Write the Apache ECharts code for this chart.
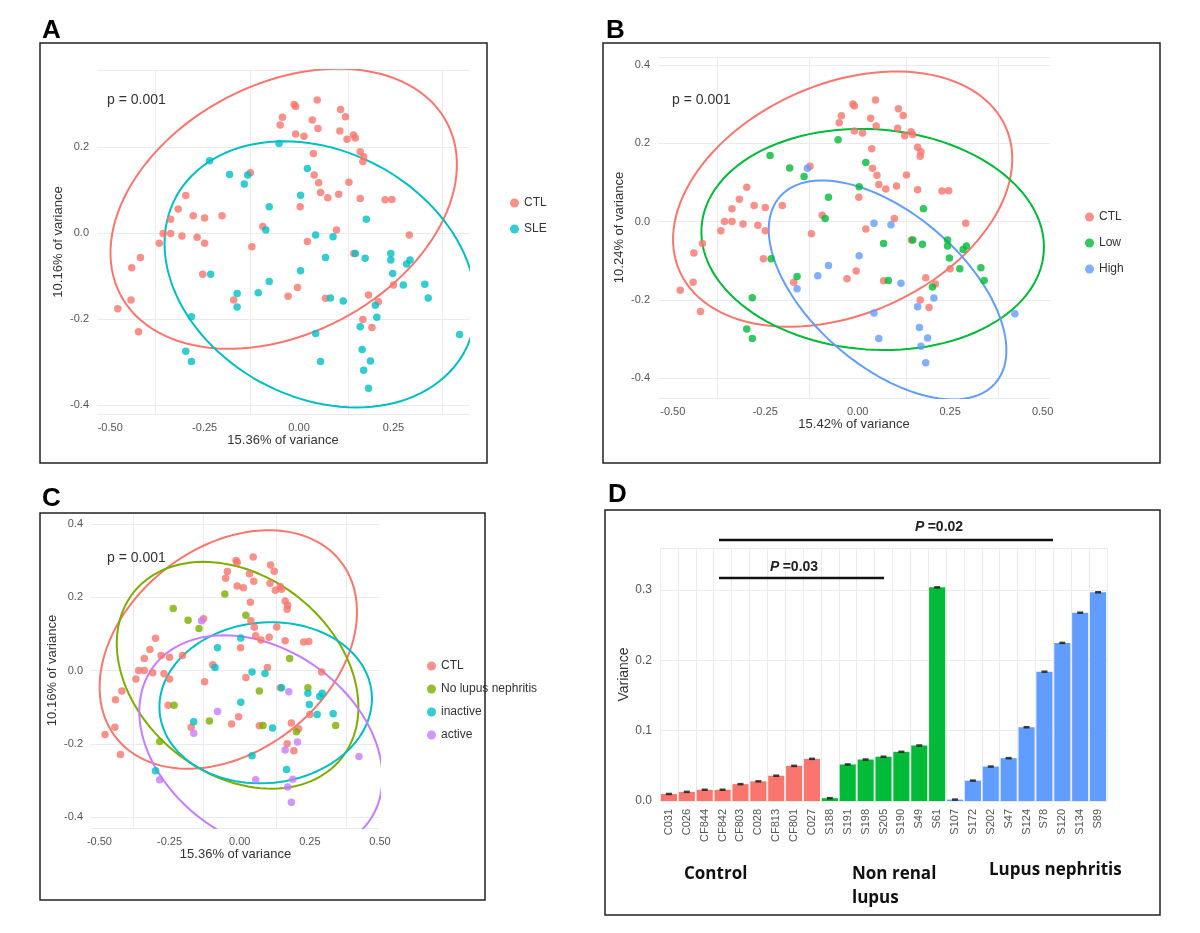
<!DOCTYPE html>
<html><head><meta charset="utf-8">
<script src="https://cdn.jsdelivr.net/npm/echarts@6/dist/echarts.min.js"></script>
<style>html,body{margin:0;padding:0;background:#fff}#c{width:1200px;height:933px}</style>
</head><body><div id="c"></div>
<script>
// ---------- DATA ----------
const ctlPoints = [[-0.48,-0.175],[-0.445,-0.155],[-0.425,-0.229],[-0.443,-0.08],[-0.42,-0.056],[-0.37,-0.023],[-0.36,0.0],[-0.34,0.0],[-0.34,0.033],[-0.32,0.057],[-0.30,0.088],[-0.31,-0.006],[-0.28,0.041],[-0.25,0.036],[-0.27,-0.009],[-0.25,-0.023],[-0.255,-0.095],[-0.204,0.041],[-0.129,0.141],[-0.125,-0.031],[-0.096,0.016],[-0.173,-0.155],[-0.05,0.252],[-0.044,0.27],[-0.013,0.30],[-0.009,0.295],[-0.009,0.231],[0.013,0.226],[0.035,0.264],[0.048,0.31],[0.05,0.244],[0.038,0.186],[0.04,0.136],[0.052,0.118],[0.057,0.095],[0.076,0.083],[0.105,0.091],[0.108,0.238],[0.11,0.288],[0.123,0.271],[0.127,0.219],[0.144,0.229],[0.149,0.222],[0.132,0.119],[0.162,0.19],[0.171,0.178],[0.169,0.167],[0.162,0.081],[0.228,0.078],[0.246,0.079],[0.292,-0.004],[0.25,-0.12],[0.184,-0.143],[0.21,-0.159],[0.169,-0.2],[0.193,-0.219],[0.145,-0.047],[0.099,0.008],[0.022,-0.019],[0.003,0.062],[-0.004,-0.126],[-0.029,-0.146],[0.07,-0.151]];
const noLupusPoints = [[-0.053,0.209],[-0.237,0.169],[-0.184,0.137],[-0.145,0.115],[0.022,0.151],[0.178,0.033],[0.07,-0.056],[0.243,-0.047],[0.342,-0.15],[0.202,-0.167],[0.083,-0.15],[-0.234,-0.095],[-0.285,-0.194],[-0.108,-0.138]];
const inactivePoints = [[-0.079,0.062],[-0.088,0.008],[0.004,0.089],[0.044,-0.004],[0.09,-0.008],[0.004,-0.087],[0.243,-0.062],[0.294,-0.062],[0.285,-0.071],[0.248,-0.093],[0.276,-0.12],[0.333,-0.118],[0.167,-0.27],[0.044,-0.233],[-0.164,-0.14],[-0.3,-0.274],[0.149,-0.047],[0.117,-0.157]];
const activePoints = [[-0.136,0.136],[-0.164,-0.171],[-0.079,-0.112],[0.175,-0.058],[0.162,-0.217],[0.206,-0.195],[0.171,-0.318],[0.184,-0.36],[0.189,-0.297],[0.425,-0.235],[0.057,-0.298],[-0.285,-0.298]];
const slePoints = noLupusPoints.concat(inactivePoints, activePoints);
const highPoints = [[-0.136,0.136],[-0.164,-0.171],[-0.108,-0.138],[-0.079,-0.112],[0.004,-0.087],[0.044,-0.004],[0.09,-0.008],[0.044,-0.233],[0.057,-0.298],[0.117,-0.157],[0.162,-0.217],[0.167,-0.27],[0.171,-0.318],[0.184,-0.36],[0.189,-0.297],[0.206,-0.195],[0.425,-0.235]];
const lowPoints = slePoints.filter(p => !highPoints.some(h => h[0]===p[0] && h[1]===p[1]));

const barCategories = ['C031','C026','CF844','CF842','CF803','C028','CF813','CF801','C027','S188','S191','S198','S205','S190','S49','S61','S107','S172','S202','S47','S124','S78','S120','S134','S89'];
const barValues = [0.010,0.013,0.016,0.016,0.024,0.028,0.036,0.050,0.060,0.004,0.052,0.059,0.063,0.070,0.079,0.304,0.002,0.029,0.049,0.061,0.105,0.184,0.225,0.268,0.297];
const barGroups = ['Control','Control','Control','Control','Control','Control','Control','Control','Control','NR','NR','NR','NR','NR','NR','NR','LN','LN','LN','LN','LN','LN','LN','LN','LN'];
const yTicksBar = [0.0,0.1,0.2,0.3];

// ---------- helpers ----------
const RED='#F8766D', TEAL='#00BFC4', GREEN='#00BA38', BLUE='#619CFF', OLIVE='#7CAE00', PURPLE='#C77CFF';
function ellipse(pts,r){const n=pts.length;let mx=0,my=0;pts.forEach(p=>{mx+=p[0];my+=p[1]});mx/=n;my/=n;
  let sxx=0,syy=0,sxy=0;pts.forEach(p=>{const dx=p[0]-mx,dy=p[1]-my;sxx+=dx*dx;syy+=dy*dy;sxy+=dx*dy});sxx/=n-1;syy/=n-1;sxy/=n-1;
  const tr=sxx+syy,det=sxx*syy-sxy*sxy,d=Math.sqrt(tr*tr/4-det);const l1=tr/2+d,l2=tr/2-d;
  const ang=Math.atan2(l1-sxx,sxy)||0;const ux=Math.cos(ang),uy=Math.sin(ang);
  const out=[];
  for(let i=0;i<=120;i++){const th=2*Math.PI*i/120;const a=r*Math.sqrt(l1)*Math.cos(th),b=r*Math.sqrt(l2)*Math.sin(th);
    out.push([mx+a*ux-b*uy,my+a*uy+b*ux]);}
  return out;}

const axisLbl={color:'#555',fontSize:11,fontFamily:'Liberation Sans'};
function ticksX(a0,a1){const a=[];for(let v=a0;v<=a1+1e-9;v+=0.25)a.push(+v.toFixed(2));return a;}
function ticksY(a0,a1){const a=[];for(let v=a0;v<=a1+1e-9;v+=0.2)a.push(+v.toFixed(1));return a;}
function xAx(gi,min,max,name,l0,l1){return {gridIndex:gi,type:'value',min,max,
  axisLabel:{...axisLbl,customValues:ticksX(l0,l1),formatter:v=>v.toFixed(2)},
  axisLine:{show:false},axisTick:{show:false,customValues:ticksX(l0-0.125,l1+0.125)},splitLine:{show:true,lineStyle:{color:'#ebebeb'}},
  name,nameLocation:'middle',nameGap:17,nameTextStyle:{color:'#333',fontSize:13,fontFamily:'Liberation Sans'}};}
function yAx(gi,min,max,name,l0,l1){return {gridIndex:gi,type:'value',min,max,
  axisLabel:{...axisLbl,customValues:ticksY(l0,l1),formatter:v=>v.toFixed(1)},axisLine:{show:false},axisTick:{show:false},
  splitLine:{show:true,lineStyle:{color:'#ebebeb'}},
  name,nameLocation:'middle',nameGap:32,nameTextStyle:{color:'#333',fontSize:13,fontFamily:'Liberation Sans'}};}
function sc(gi,name,data,color){return {type:'scatter',name,xAxisIndex:gi,yAxisIndex:gi,data,symbolSize:7.5,itemStyle:{color},z:3};}
const R=2.15;
function el(gi,data,color){return {type:'line',xAxisIndex:gi,yAxisIndex:gi,data:ellipse(data,R),showSymbol:false,lineStyle:{color,width:2},z:2,silent:true};}

const barColors = barGroups.map(g=>g==='Control'?RED:g==='NR'?GREEN:BLUE);
const legendText={color:'#333',fontSize:12,fontFamily:'Liberation Sans'};
const pTxt=(x,y)=>({type:'text',left:x,top:y,z:20,style:{text:'p = 0.001',fill:'#333',font:'14px Liberation Sans'}});
const letter=(t,x,y)=>({type:'text',left:x,top:y,style:{text:t,fill:'#000',font:'bold 26px Liberation Sans'}});
const box=(x,y,w,h)=>({type:'rect',shape:{x,y,width:w,height:h},style:{fill:'none',stroke:'#222',lineWidth:1.5},z:10});
const pRich={i:{font:'italic bold 14px Liberation Sans',fill:'#222'},b:{font:'bold 14px Liberation Sans',fill:'#222'}};

const option={
  animation:false,
  grid:[
    {left:97,top:70,width:372,height:344},
    {left:658,top:57,width:392,height:341},
    {left:91,top:513,width:289,height:315},
    {left:660,top:548,width:447,height:253}
  ],
  xAxis:[xAx(0,-0.535,0.45,'15.36% of variance',-0.5,0.25),xAx(1,-0.54,0.52,'15.42% of variance',-0.5,0.5),xAx(2,-0.53,0.5,'15.36% of variance',-0.5,0.5),
    {gridIndex:3,type:'category',data:barCategories,axisLine:{show:false},axisTick:{show:false},
    axisLabel:{color:'#555',fontSize:11,rotate:90,fontFamily:'Liberation Sans',margin:8},splitLine:{show:true,lineStyle:{color:'#ebebeb'}}}],
  yAxis:[yAx(0,-0.42,0.38,'10.16% of variance',-0.4,0.2),yAx(1,-0.45,0.42,'10.24% of variance',-0.4,0.4),yAx(2,-0.43,0.43,'10.16% of variance',-0.4,0.4),
    {gridIndex:3,type:'value',min:0,max:0.36,axisLine:{show:false},axisTick:{show:false},
    axisLabel:{color:'#555',fontSize:12,fontFamily:'Liberation Sans',formatter:v=>v.toFixed(1),customValues:yTicksBar},
    splitLine:{show:true,lineStyle:{color:'#ebebeb'}},name:'Variance',nameLocation:'middle',nameGap:28,
    nameTextStyle:{color:'#333',fontSize:14,fontFamily:'Liberation Sans'}}],
  legend:[
    {data:['CTL','SLE'],left:505,top:192,orient:'vertical',itemGap:14,icon:'circle',itemWidth:9,itemHeight:9,textStyle:legendText},
    {data:['CTL ','Low','High'],left:1080,top:206,orient:'vertical',itemGap:14,icon:'circle',itemWidth:9,itemHeight:9,textStyle:legendText},
    {data:['CTL  ','No lupus nephritis','inactive','active'],left:422,top:655,orient:'vertical',itemGap:11,icon:'circle',itemWidth:9,itemHeight:9,textStyle:legendText}
  ],
  series:[
    el(0,ctlPoints,RED),el(0,slePoints,TEAL),sc(0,'CTL',ctlPoints,RED),sc(0,'SLE',slePoints,TEAL),
    el(1,ctlPoints,RED),el(1,lowPoints,GREEN),el(1,highPoints,BLUE),
    sc(1,'CTL ',ctlPoints,RED),sc(1,'Low',lowPoints,GREEN),sc(1,'High',highPoints,BLUE),
    el(2,ctlPoints,RED),el(2,noLupusPoints,OLIVE),el(2,inactivePoints,TEAL),el(2,activePoints,PURPLE),
    sc(2,'CTL  ',ctlPoints,RED),sc(2,'No lupus nephritis',noLupusPoints,OLIVE),sc(2,'inactive',inactivePoints,TEAL),sc(2,'active',activePoints,PURPLE),
    {type:'bar',xAxisIndex:3,yAxisIndex:3,data:barValues.map((v,i)=>({value:v,itemStyle:{color:barColors[i]}})),barCategoryGap:'10%'},
    {type:'scatter',xAxisIndex:3,yAxisIndex:3,data:barValues,symbol:'rect',symbolSize:[6,2.5],itemStyle:{color:'#111'},z:5}
  ],
  graphic:[
    box(40,43,447,420),box(603,43,557,420),box(40,513,445,387),box(605,510,555,405),
    letter('A',42,18),letter('B',606,18),letter('C',42,486),letter('D',608,482),
    pTxt(107,93),pTxt(672,93),pTxt(107,551),
    {type:'line',shape:{x1:719,y1:578,x2:884,y2:578},style:{stroke:'#111',lineWidth:2.5},z:20},
    {type:'line',shape:{x1:719,y1:540,x2:1053,y2:540},style:{stroke:'#111',lineWidth:2.5},z:20},
    {type:'text',left:770,top:560,z:21,style:{rich:pRich,text:'{i|P} {b|=0.03}'}},
    {type:'text',left:915,top:520,z:21,style:{rich:pRich,text:'{i|P} {b|=0.02}'}},
    {type:'text',left:684,top:866,style:{text:'Control',fill:'#111',font:'bold 17px "Open Sans"'}},
    {type:'text',left:852,top:862,style:{text:'Non renal\nlupus',fill:'#111',font:'bold 17px "Open Sans"',lineHeight:24}},
    {type:'text',left:989,top:862,style:{text:'Lupus nephritis',fill:'#111',font:'bold 17px "Open Sans"'}}
  ]
};
echarts.init(document.getElementById('c')).setOption(option);
</script></body></html>
